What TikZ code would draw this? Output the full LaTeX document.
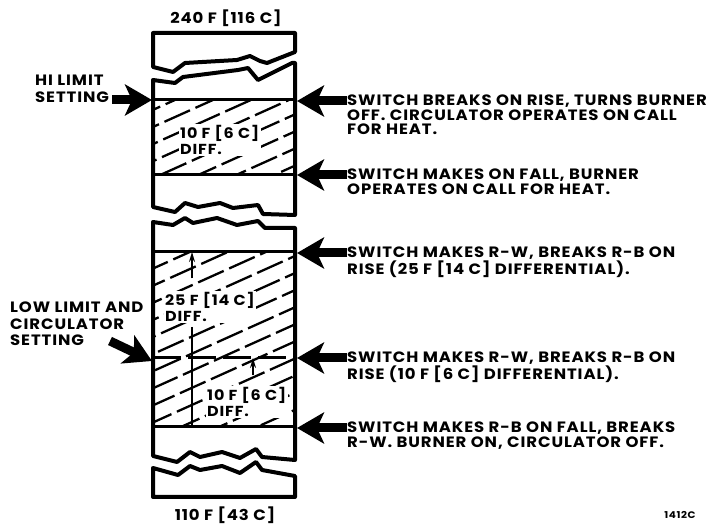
\documentclass[tikz,border=0pt]{standalone}
\usepackage{fontspec}
\setmainfont{Poppins}[FakeStretch=1.1, LetterSpace=6]
\usetikzlibrary{arrows.meta}
\begin{document}
\begin{tikzpicture}[x=1pt, y=-1pt,
    txt/.style={font=\bfseries\fontsize{15}{14.5}\selectfont, align=left, inner sep=0pt},
    sidetxt/.style={font=\bfseries\fontsize{15}{16.5}\selectfont, align=left, inner sep=0pt},
    difftxt/.style={font=\bfseries\fontsize{14.5}{16}\selectfont, align=left, inner sep=1.5pt, fill=white},
    wall/.style={line width=4pt, line join=round},
    divline/.style={line width=3pt},
    hatchline/.style={line width=2.3pt, dash pattern=on 28pt off 6pt},
    bigarrow/.style={line width=9pt, -{Stealth[length=27pt, width=31pt, inset=7pt]}},
    smallarrow/.style={line width=1.5pt, -{Stealth[length=10pt, width=6pt]}}]

\useasboundingbox (0,0) rectangle (710,526);

% hatched bands
\begin{scope}
  \clip (153,100) rectangle (295,175);
  \foreach \k in {-5,...,6}
    \draw[hatchline, dash phase=\k*9pt] (100+\k*38,185) -- ++(300,-135);
\end{scope}
\begin{scope}
  \clip (153,252) rectangle (295,427);
  \foreach \k in {-8,...,8}
    \draw[hatchline, dash phase=\k*11pt] (\k*38,440) -- ++(500,-225);
\end{scope}

% column pieces with torn edges
\draw[wall] (153,33) -- (295,33) -- (295,52) -- (267,63) -- (260,61) -- (250,56) -- (237,60)
  -- (185,63) -- (173,72) -- (153,67) -- cycle;
\draw[wall] (153,80) -- (175,83) -- (183,77) -- (238,70) -- (248,68) -- (258,80) -- (292,63)
  -- (295,63) -- (295,215) -- (263,214) -- (258,205) -- (233,208) -- (220,203) -- (198,207)
  -- (185,203) -- (175,212) -- (153,207) -- cycle;
\draw[wall] (153,222) -- (173,225) -- (185,218) -- (193,223) -- (217,218) -- (237,225)
  -- (258,221) -- (265,228) -- (295,228) -- (295,460) -- (262,457) -- (256,449) -- (240,458)
  -- (222,452) -- (200,457) -- (190,452) -- (177,462) -- (153,456) -- cycle;
\draw[wall] (153,468) -- (178,475) -- (190,466) -- (200,470) -- (222,466) -- (240,473)
  -- (256,462) -- (262,470) -- (295,476) -- (295,497) -- (153,497) -- cycle;

% setting lines
\draw[divline] (153,100) -- (295,100);
\draw[divline] (153,175) -- (295,175);
\draw[divline] (153,252) -- (295,252);
\draw[divline] (153,427) -- (295,427);
\draw[divline, dash pattern=on 28pt off 7pt] (153,358) -- (295,358);
\draw[line width=2.5pt] (192,327) -- (192,427);

% differential labels
\node[difftxt, anchor=north west] (hidiff) at (178.5,123.5) {10 F [6 C]\\DIFF.};
\node[difftxt, anchor=north west] (lodiff) at (163.5,290.5) {25 F [14 C]\\DIFF.};
\node[difftxt, anchor=north west] (circdiff) at (205.5,385.5) {10 F [6 C]\\DIFF.};
\coordinate (up1) at (192,252);
\coordinate (up2) at (253,358);
\draw[smallarrow] (lodiff.north west -| up1) ++(0,-12) -- (up1);
\draw[smallarrow] (circdiff.north west -| up2) ++(0,-10) -- (up2);

% scale ends
\node[txt] (top) at (226,18) {240 F [116 C]};
\node[txt] (bottom) at (225,515) {110 F [43 C]};
\node[txt, font=\bfseries\fontsize{9.5}{10}\selectfont] (fig) at (680,515) {1412C};

% left settings
\node[sidetxt, anchor=north west] (hi) at (35,75) {HI LIMIT\\SETTING};
\coordinate (hitip) at (152,100);
\coordinate (hitail) at (112,100);
\draw[bigarrow] (hitail) -- (hitip);
\node[sidetxt, anchor=north west] (low) at (10,302) {LOW LIMIT AND\\CIRCULATOR\\SETTING};
\coordinate (lowtip) at (152,361);
\coordinate (lowtail) at (110,341);
\draw[bigarrow] (lowtail) -- (lowtip);

% switch actions
\foreach \y/\name/\lines in {
    101/brk/{SWITCH BREAKS ON RISE, TURNS BURNER\\OFF. CIRCULATOR OPERATES ON CALL\\FOR HEAT.},
    175/mk/{SWITCH MAKES ON FALL, BURNER\\OPERATES ON CALL FOR HEAT.},
    253/rw/{SWITCH MAKES R-W, BREAKS R-B ON\\RISE (25 F [14 C] DIFFERENTIAL).},
    358/rwc/{SWITCH MAKES R-W, BREAKS R-B ON\\RISE (10 F [6 C] DIFFERENTIAL).},
    428/rb/{SWITCH MAKES R-B ON FALL, BREAKS\\R-W. BURNER ON, CIRCULATOR OFF.}} {
  \node[txt, anchor=north west] (\name) at (347,\y-6) {\lines};
  \coordinate (\name tip) at (297,\y);
  \draw[bigarrow] (\name.north west) ++(0,6) -- (\name tip);
}

\end{tikzpicture}
\end{document}
